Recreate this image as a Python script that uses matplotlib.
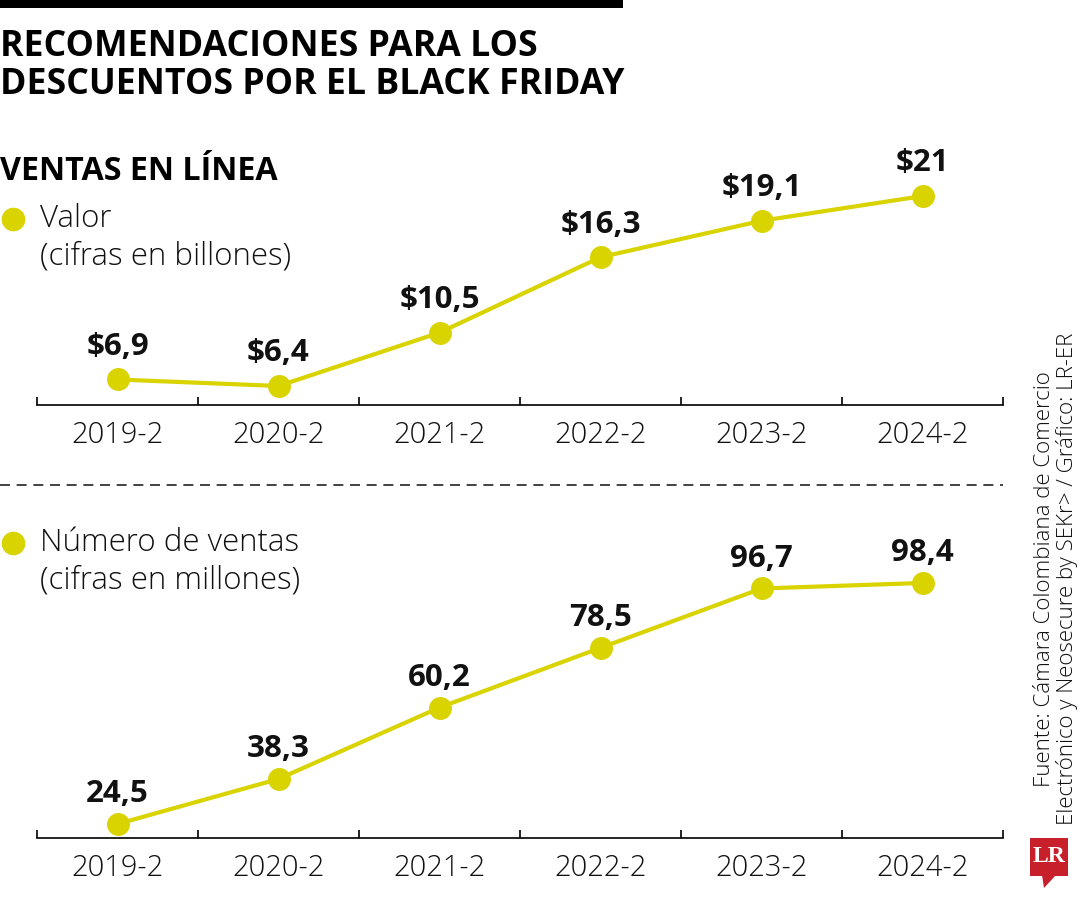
import matplotlib
matplotlib.use("Agg")
import matplotlib.pyplot as plt
from matplotlib.patches import Rectangle, Polygon
from matplotlib.lines import Line2D

categories = ["2019-2", "2020-2", "2021-2", "2022-2", "2023-2", "2024-2"]
valor = [6.9, 6.4, 10.5, 16.3, 19.1, 21]
valor_labels = ["$6,9", "$6,4", "$10,5", "$16,3", "$19,1", "$21"]
numero = [24.5, 38.3, 60.2, 78.5, 96.7, 98.4]
numero_labels = ["24,5", "38,3", "60,2", "78,5", "96,7", "98,4"]

title_lines = ["RECOMENDACIONES PARA LOS", "DESCUENTOS POR EL BLACK FRIDAY"]
subtitle = "VENTAS EN LÍNEA"
legend1 = ["Valor", "(cifras en billones)"]
legend2 = ["Número de ventas", "(cifras en millones)"]
source = "Fuente: Cámara Colombiana de Comercio\nElectrónico y Neosecure by SEKr> / Gráfico: LR-ER"

W, H = 1080, 900
YEL = "#d9d300"
FONT = "Open Sans"

fig = plt.figure(figsize=(W / 100, H / 100), dpi=100)
fig.patch.set_facecolor("white")


def fx(px):
    return px / W


def fy(py):
    return 1 - py / H


def make_axes(top_px, bottom_px, ylim):
    ax = fig.add_axes([fx(37), fy(bottom_px), fx(1003 - 37), (bottom_px - top_px) / H])
    ax.set_xlim(-0.5, len(categories) - 0.5)
    ax.set_ylim(*ylim)
    for s in ["top", "right", "left"]:
        ax.spines[s].set_visible(False)
    ax.spines["bottom"].set_linewidth(1.2)
    ax.set_yticks([])
    ax.set_xticks(range(len(categories)))
    ax.set_xticklabels(categories, fontsize=21, family=FONT, fontweight="light", color="#111111")
    ax.tick_params(axis="x", which="major", length=0, pad=11)
    ax.set_xticks([i - 0.5 for i in range(len(categories) + 1)], minor=True)
    ax.tick_params(axis="x", which="minor", direction="in", length=5.5, width=1.2)
    ax.patch.set_alpha(0)
    return ax


ax1 = make_axes(150, 405, (4.94, 24.54))
ax1.plot(range(len(valor)), valor, color=YEL, lw=3, marker="o", ms=15.5, mfc=YEL, mec=YEL, clip_on=False)
for i, (v, lab) in enumerate(zip(valor, valor_labels)):
    ax1.annotate(lab, (i, v), xytext=(0, 23.5), textcoords="offset points", ha="center", va="center",
                 fontsize=22.5, fontweight="bold", family=FONT, color="#111111")

ax2 = make_axes(520, 838, (20.2, 117.7))
ax2.plot(range(len(numero)), numero, color=YEL, lw=3, marker="o", ms=15.5, mfc=YEL, mec=YEL, clip_on=False)
for i, (v, lab) in enumerate(zip(numero, numero_labels)):
    ax2.annotate(lab, (i, v), xytext=(0, 21.5), textcoords="offset points", ha="center", va="center",
                 fontsize=22.5, fontweight="bold", family=FONT, color="#111111")

# top bar
fig.add_artist(Rectangle((0, fy(8)), fx(623), 8 / H, transform=fig.transFigure, color="black", lw=0))

# title
for line, yc in zip(title_lines, [47, 85]):
    fig.text(fx(0), fy(yc), line, ha="left", va="center", fontsize=25.7, fontweight="bold", family=FONT,
             color="black")
fig.text(fx(0), fy(171), subtitle, ha="left", va="center", fontsize=23.2, fontweight="bold", family=FONT,
         color="black")

# legends
for lines, yc in [(legend1, 219), (legend2, 543)]:
    fig.add_artist(Line2D([fx(13)], [fy(yc)], transform=fig.transFigure, marker="o", ms=16,
                          mfc=YEL, mec=YEL, lw=0))
    for k, t in enumerate(lines):
        fig.text(fx(40), fy(yc + 37 * k), t, ha="left", va="center", fontsize=22.5, family=FONT,
                 fontweight="light", color="#111111")

# dashed separator
fig.add_artist(Line2D([0, fx(1003)], [fy(485), fy(485)], transform=fig.transFigure, color="#222222",
                      lw=1.2, linestyle=(0, (6, 4))))

# source text
fig.text(fx(1056), fy(825), source, ha="center", va="bottom", rotation=90, fontsize=16, family=FONT,
         fontweight="light", color="#111111", linespacing=1.05)

# LR logo
RED = "#c8202a"
fig.add_artist(Rectangle((fx(1030), fy(876)), fx(38), 38 / H, transform=fig.transFigure, color=RED, lw=0))
fig.add_artist(Polygon([(fx(1042), fy(875)), (fx(1056), fy(875)), (fx(1044), fy(888))],
                       closed=True, transform=fig.transFigure, color=RED, lw=0))
fig.text(fx(1049), fy(857), "LR", ha="center", va="center", fontsize=17, fontweight="bold",
         family="Liberation Serif", color="white")

fig.savefig("out.png", dpi=100, facecolor="white")
